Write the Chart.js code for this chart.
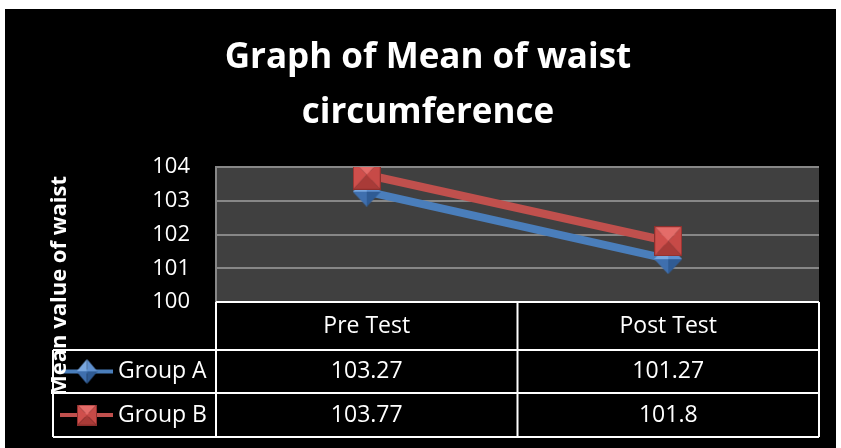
<!DOCTYPE html>
<html lang="en">
<head>
    <meta charset="UTF-8">
    <script src="https://cdn.jsdelivr.net/npm/chart.js"></script>
    <title>Graph of Mean of waist circumference</title>
    <style>
        html, body { margin: 0; padding: 0; background: #fff; }
        #wrap { width: 841px; height: 448px; }
    </style>
</head>
<body>
<div id="wrap"><canvas id="container" width="841" height="448"></canvas></div>

<script>
    const categories = ['Pre Test', 'Post Test'];
    const seriesNames = ['Group A', 'Group B'];
    const groupA = [103.27, 101.27];
    const groupB = [103.77, 101.8];
    const yMin = 100, yMax = 104, yStep = 1;
    const titleLines = ['Graph of Mean of waist', 'circumference'];
    const yTitle = 'Mean value of waist';

    const blue = '#4a7ebb';
    const red = '#c0504d';
    const font = "'Open Sans', 'DejaVu Sans', sans-serif";

    // little 3D looking markers, like the office ones
    function face(g, pts, col) {
        g.beginPath();
        g.moveTo(pts[0][0], pts[0][1]);
        for (let i = 1; i < pts.length; i++) g.lineTo(pts[i][0], pts[i][1]);
        g.closePath();
        g.fillStyle = col;
        g.fill();
    }

    function squareMarker(w, h) {
        const c = document.createElement('canvas');
        c.width = w; c.height = h;
        const g = c.getContext('2d');
        const cx = w / 2, cy = h / 2;
        face(g, [[0, 0], [w, 0], [cx, cy]], '#e46c69');
        face(g, [[0, 0], [0, h], [cx, cy]], '#cf4f4c');
        face(g, [[w, 0], [w, h], [cx, cy]], '#c74a47');
        face(g, [[0, h], [w, h], [cx, cy]], '#a93b38');
        g.strokeStyle = '#8e2f2d';
        g.lineWidth = 1;
        g.strokeRect(0.5, 0.5, w - 1, h - 1);
        return c;
    }

    function diamondMarker(w, h) {
        const c = document.createElement('canvas');
        c.width = w; c.height = h;
        const g = c.getContext('2d');
        const cx = w / 2, cy = h / 2;
        face(g, [[cx, 0], [0, cy], [cx, cy]], '#79a7df');
        face(g, [[cx, 0], [w, cy], [cx, cy]], '#5f90cf');
        face(g, [[0, cy], [cx, h], [cx, cy]], '#3f6fae');
        face(g, [[w, cy], [cx, h], [cx, cy]], '#2f5b94');
        return c;
    }

    const markerA = diamondMarker(28, 30);
    const markerB = squareMarker(28, 30);
    const legendA = diamondMarker(21, 25);
    const legendB = squareMarker(20, 21);

    const frame = {
        id: 'frame',
        beforeDraw(chart) {
            const ctx = chart.ctx;
            const a = chart.chartArea;
            ctx.save();
            ctx.fillStyle = '#ffffff';
            ctx.fillRect(0, 0, chart.width, chart.height);
            ctx.fillStyle = '#000000';
            ctx.fillRect(5, 9, 831, chart.height - 9);
            ctx.fillStyle = '#404040';
            ctx.fillRect(a.left, a.top, a.right - a.left, a.bottom - a.top);

            ctx.fillStyle = '#ffffff';
            ctx.font = 'bold 35px ' + font;
            ctx.textAlign = 'center';
            ctx.textBaseline = 'alphabetic';
            ctx.fillText(titleLines[0], 428, 68);
            ctx.fillText(titleLines[1], 428, 123);
            ctx.restore();
        },
        afterDraw(chart) {
            const ctx = chart.ctx;
            const a = chart.chartArea;
            const mid = (a.left + a.right) / 2;
            const rows = [a.bottom, 350, 393, 437];
            const legLeft = 53;
            ctx.save();
            ctx.strokeStyle = '#ffffff';
            ctx.lineWidth = 2;
            ctx.beginPath();
            ctx.moveTo(a.left, rows[0]); ctx.lineTo(a.right, rows[0]);
            for (let i = 1; i < rows.length; i++) {
                ctx.moveTo(legLeft, rows[i]); ctx.lineTo(a.right, rows[i]);
            }
            ctx.moveTo(a.left, rows[0]); ctx.lineTo(a.left, rows[3]);
            ctx.moveTo(mid, rows[0]); ctx.lineTo(mid, rows[3]);
            ctx.moveTo(a.right, rows[0]); ctx.lineTo(a.right, rows[3]);
            ctx.moveTo(legLeft, rows[1]); ctx.lineTo(legLeft, rows[3]);
            ctx.stroke();

            ctx.fillStyle = '#ffffff';
            ctx.font = '23px ' + font;
            ctx.textAlign = 'center';
            ctx.textBaseline = 'middle';
            const colX = [(a.left + mid) / 2, (mid + a.right) / 2];
            categories.forEach((c, i) => ctx.fillText(c, colX[i], (rows[0] + rows[1]) / 2));
            const sets = chart.data.datasets;
            sets.forEach((ds, r) => {
                const y = (rows[r + 1] + rows[r + 2]) / 2;
                ds.data.forEach((v, i) => ctx.fillText(String(v), colX[i], y));
                // legend key
                ctx.strokeStyle = ds.borderColor;
                ctx.lineWidth = 4;
                ctx.beginPath();
                ctx.moveTo(60, y); ctx.lineTo(113, y);
                ctx.stroke();
                const img = r === 0 ? legendA : legendB;
                ctx.drawImage(img, 87 - img.width / 2, y - img.height / 2);
                ctx.textAlign = 'left';
                ctx.fillText(ds.label, 118, y);
                ctx.textAlign = 'center';
            });

            ctx.translate(60, 286);
            ctx.rotate(-Math.PI / 2);
            ctx.font = 'bold 22px ' + font;
            ctx.fillText(yTitle, 0, 0);
            ctx.restore();
        }
    };

    const ctx = document.getElementById('container').getContext('2d');

    const myChart = new Chart(ctx, {
        type: 'line',
        data: {
            labels: categories,
            datasets: [{
                label: seriesNames[0],
                data: groupA,
                borderColor: blue,
                backgroundColor: blue,
                borderWidth: 8,
                pointStyle: markerA,
                pointRadius: 14,
                order: 2
            }, {
                label: seriesNames[1],
                data: groupB,
                borderColor: red,
                backgroundColor: red,
                borderWidth: 8,
                pointStyle: markerB,
                pointRadius: 14,
                order: 1
            }]
        },
        options: {
            responsive: false,
            animation: false,
            layout: { padding: { top: 167, bottom: 146, left: 0, right: 18 } },
            plugins: {
                legend: { display: false },
                title: { display: false },
                tooltip: { enabled: false }
            },
            scales: {
                x: { display: false, offset: true },
                y: {
                    min: yMin,
                    max: yMax,
                    afterFit(scale) { scale.width = 216; },
                    ticks: {
                        stepSize: yStep,
                        color: '#ffffff',
                        padding: 26,
                        font: { family: font, size: 22 }
                    },
                    grid: { color: '#878787', lineWidth: 2, drawTicks: false },
                    border: { color: '#878787', width: 2 }
                }
            }
        },
        plugins: [frame]
    });
</script>
</body>
</html>
